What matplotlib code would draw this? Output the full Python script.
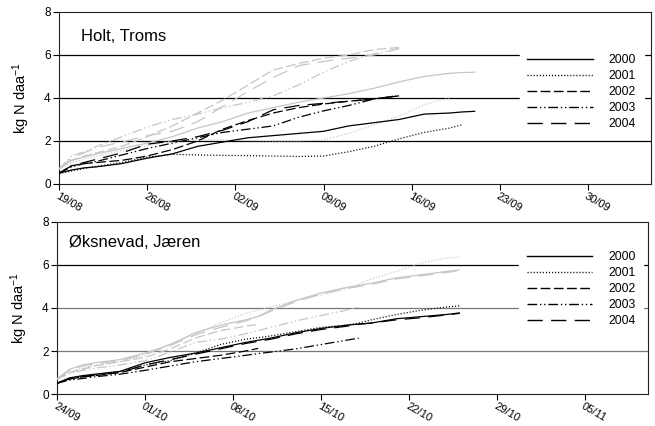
import numpy as np
import matplotlib
matplotlib.use("Agg")
import matplotlib.pyplot as plt
from matplotlib.lines import Line2D

plt.rcParams["font.family"] = ["Liberation Sans", "DejaVu Sans"]
plt.rcParams["mathtext.default"] = "regular"
plt.rcParams["lines.scale_dashes"] = False

nan = np.nan

# ---- data: Holt, Troms (days after 19/08) ----
holt_days = [0, 1, 2, 3, 5, 7, 9, 11, 13, 15, 17, 19, 21, 23, 25, 27, 29, 31, 32, 33]
holt_ticks = ["19/08", "26/08", "02/09", "09/09", "16/09", "23/09", "30/09"]

holt_black = {
    "2000": [0.5, 0.65, 0.75, 0.8, 0.95, 1.2, 1.4, 1.75, 1.95, 2.15, 2.25, 2.35, 2.45, 2.7, 2.85, 3.0, 3.25, 3.3, 3.35, 3.38],
    "2001": [0.5, 0.6, 0.72, 0.82, 1.0, 1.25, 1.38, 1.35, 1.33, 1.32, 1.3, 1.28, 1.3, 1.5, 1.75, 2.1, 2.4, 2.6, 2.75, nan],
    "2002": [0.5, 0.85, 0.95, 1.0, 1.1, 1.3, 1.6, 2.0, 2.55, 2.95, 3.3, 3.55, 3.72, 3.85, 3.95, 4.1, nan, nan, nan, nan],
    "2003": [0.5, 0.8, 0.95, 1.05, 1.35, 1.65, 1.9, 2.15, 2.4, 2.55, 2.7, 3.1, 3.4, 3.65, 3.95, 4.1, nan, nan, nan, nan],
    "2004": [0.5, 0.85, 1.0, 1.15, 1.45, 1.85, 2.0, 2.2, 2.5, 2.9, 3.45, 3.65, 3.75, 3.85, 3.95, 4.12, nan, nan, nan, nan],
}
holt_gray = {
    "2000": [0.7, 1.1, 1.25, 1.4, 1.65, 1.9, 2.2, 2.6, 2.9, 3.3, 3.55, 3.8, 4.0, 4.2, 4.45, 4.75, 5.0, 5.15, 5.18, 5.2],
    "2001": [0.7, 1.0, 1.15, 1.3, 1.55, 1.8, 2.0, 2.05, 2.05, 2.02, 2.0, 2.0, 2.05, 2.35, 2.75, 3.15, 3.7, 4.0, nan, nan],
    "2002": [0.7, 1.1, 1.3, 1.45, 1.75, 2.2, 2.7, 3.3, 3.9, 4.6, 5.3, 5.6, 5.85, 6.0, 6.25, 6.35, nan, nan, nan, nan],
    "2003": [0.7, 1.3, 1.5, 1.75, 2.2, 2.65, 3.0, 3.25, 3.55, 3.8, 4.1, 4.6, 5.2, 5.7, 6.05, 6.3, nan, nan, nan, nan],
    "2004": [0.7, 1.2, 1.45, 1.7, 1.95, 2.25, 2.45, 2.9, 3.6, 4.3, 4.95, 5.5, 5.7, 5.85, 6.0, 6.3, nan, nan, nan, nan],
}

# ---- data: Øksnevad, Jæren (days after 24/09) ----
oks_days = [0, 1, 2, 3, 5, 7, 9, 11, 13, 15, 16, 17, 19, 21, 23, 24, 25, 27, 29, 31, 32]
oks_ticks = ["24/09", "01/10", "08/10", "15/10", "22/10", "29/10", "05/11"]

oks_black = {
    "2000": [0.5, 0.75, 0.85, 0.92, 1.05, 1.45, 1.7, 1.9, 2.15, 2.4, 2.5, 2.6, 2.85, 3.05, 3.2, 3.25, 3.3, 3.5, 3.6, 3.7, 3.77],
    "2001": [0.5, 0.7, 0.8, 0.9, 1.05, 1.35, 1.55, 1.9, 2.3, 2.55, 2.62, 2.7, 2.9, 3.1, 3.2, 3.3, 3.45, 3.7, 3.9, 4.05, 4.1],
    "2002": [0.5, 0.7, 0.8, 0.85, 1.0, 1.25, 1.5, 1.65, 1.8, 2.0, 2.12, nan, nan, nan, nan, nan, nan, nan, nan, nan, nan],
    "2003": [0.5, 0.65, 0.72, 0.8, 0.92, 1.1, 1.3, 1.5, 1.65, 1.8, 1.88, 1.95, 2.1, 2.3, 2.5, 2.6, nan, nan, nan, nan, nan],
    "2004": [0.5, 0.7, 0.8, 0.88, 1.0, 1.35, 1.6, 1.85, 2.1, 2.35, 2.45, 2.55, 2.8, 3.0, 3.15, 3.25, 3.3, 3.45, 3.55, 3.68, 3.75],
}
oks_gray = {
    "2000": [0.7, 1.15, 1.35, 1.45, 1.6, 1.9, 2.3, 2.85, 3.2, 3.45, 3.6, 3.9, 4.35, 4.7, 4.95, 5.05, 5.15, 5.4, 5.55, 5.7, 5.77],
    "2001": [0.7, 1.05, 1.2, 1.35, 1.5, 1.8, 2.3, 2.8, 3.3, 3.75, 3.9, 4.05, 4.35, 4.6, 4.9, 5.1, 5.35, 5.7, 6.1, 6.32, 6.37],
    "2002": [0.7, 1.0, 1.15, 1.3, 1.5, 1.7, 2.1, 2.6, 2.95, 3.15, 3.25, nan, nan, nan, nan, nan, nan, nan, nan, nan, nan],
    "2003": [0.7, 0.95, 1.1, 1.2, 1.35, 1.55, 1.95, 2.4, 2.55, 2.8, 2.95, 3.1, 3.4, 3.65, 3.9, 4.05, nan, nan, nan, nan, nan],
    "2004": [0.7, 1.1, 1.3, 1.4, 1.55, 1.85, 2.25, 2.75, 3.1, 3.4, 3.6, 3.85, 4.3, 4.65, 4.9, 5.0, 5.1, 5.35, 5.5, 5.65, 5.75],
}

years = ["2000", "2001", "2002", "2003", "2004"]
styles = {
    "2000": "-",
    "2001": (0, (0.8, 1.4)),
    "2002": (0, (7, 2.5)),
    "2003": (0, (7, 2, 1, 2, 1, 2)),
    "2004": (0, (11, 6)),
}
gray = "#c6c6c6"


def panel(ax, days, black, grey, ticks, title, title_xy, legend_xy, grid_colors):
    for y in years:
        ax.plot(days, grey[y], color=gray, lw=0.9, linestyle=styles[y], zorder=3)
    for y in years:
        ax.plot(days, black[y], color="black", lw=0.9, linestyle=styles[y], zorder=4)

    for val, c in zip([2, 4, 6], grid_colors):
        ax.axhline(val, color=c, lw=0.9, zorder=1)

    ax.set_xlim(0, 47)
    ax.set_ylim(0, 8)
    ax.set_yticks([0, 2, 4, 6, 8])
    ax.set_xticks([7 * i for i in range(len(ticks))])
    ax.set_xticklabels(ticks, rotation=-30, ha="left", va="top", rotation_mode="anchor")
    ax.tick_params(axis="x", length=4, width=0.8, labelsize=8, pad=1)
    ax.tick_params(axis="y", length=4, width=0.8, labelsize=8.5, pad=2)
    for s in ax.spines.values():
        s.set_linewidth(0.8)
        s.set_color("#222222")

    ax.set_ylabel("kg N daa$^{-1}$", fontsize=10.5)
    ax.yaxis.set_label_coords(-0.046, 0.5)
    ax.text(title_xy[0], title_xy[1], title, transform=ax.transAxes, fontsize=12,
            ha="left", va="center")

    handles = [Line2D([], [], color="black", lw=1.0, linestyle=styles[y]) for y in years]
    leg = ax.legend(handles, years, loc="upper left", bbox_to_anchor=legend_xy,
                    borderaxespad=0, frameon=True, fancybox=False, facecolor="white",
                    edgecolor="white", framealpha=1, fontsize=8.7, handlelength=5.4,
                    handletextpad=1.3, labelspacing=0.33, borderpad=0.65)
    leg.set_zorder(6)


fig = plt.figure(figsize=(6.55, 4.26), dpi=100)
ax1 = fig.add_axes([0.0901, 0.5681, 0.9038, 0.4038])
ax2 = fig.add_axes([0.0870, 0.0751, 0.9023, 0.4038])

panel(ax1, holt_days, holt_black, holt_gray, holt_ticks, "Holt, Troms",
      (0.037, 0.855), (0.778, 0.80), ["black", "black", "black"])
panel(ax2, oks_days, oks_black, oks_gray, oks_ticks, "Øksnevad, Jæren",
      (0.02, 0.878), (0.782, 0.875), ["#777777", "#777777", "black"])

fig.savefig("out.png", dpi=100)
